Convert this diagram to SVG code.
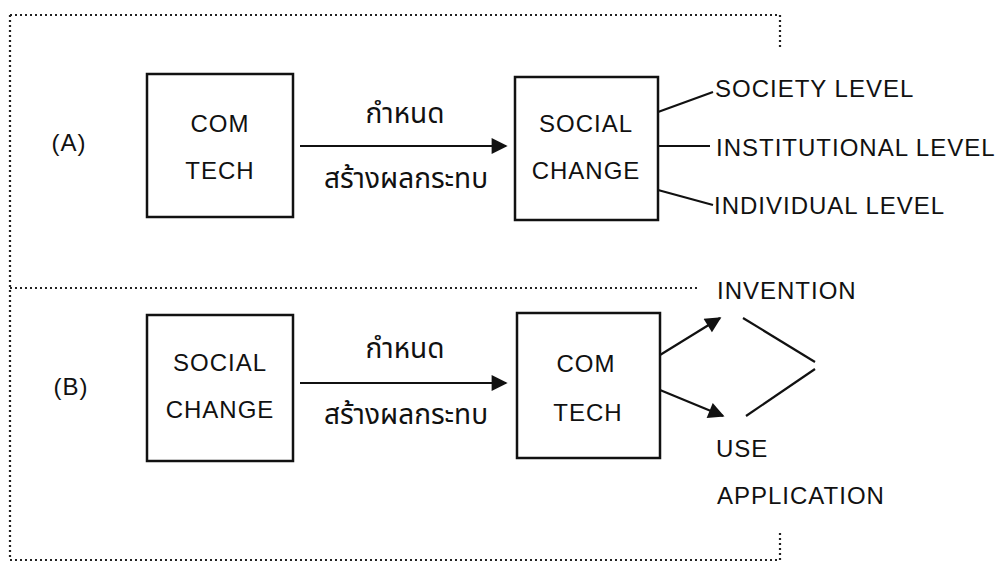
<svg xmlns="http://www.w3.org/2000/svg" width="1006" height="563" viewBox="0 0 1006 563">
  <defs>
    <marker id="headB" viewBox="0 0 10 10" refX="9" refY="5" markerWidth="20" markerHeight="16" markerUnits="userSpaceOnUse" orient="auto">
      <path d="M0,0 L10,5 L0,10 Z" fill="#111"/>
    </marker>
    <style>
      .frame { fill: none; stroke: #222; stroke-width: 2.2; stroke-dasharray: 2 3; }
      .box { fill: #fff; stroke: #111; stroke-width: 2.5; }
      .edge { fill: none; stroke: #111; stroke-width: 2.2; }
      .t { font-family: "Liberation Sans", "DejaVu Sans", sans-serif; font-size: 24px; letter-spacing: 1px; fill: #111; }
      .th { font-family: "Noto Sans Thai", "Noto Sans", "DejaVu Sans", sans-serif; font-size: 28px; fill: #111; }
      .mid { text-anchor: middle; }
    </style>
  </defs>
  <rect width="1006" height="563" fill="#fff"/>

  <!-- dotted frame -->
  <g id="frame">
    <path class="frame" d="M10,15 H780 V47"/>
    <path class="frame" d="M10,15 V560 H780 V530"/>
    <path class="frame" d="M10,288 H700"/>
  </g>

  <!-- panel labels -->
  <text class="t mid" x="69" y="151">(A)</text>
  <text class="t mid" x="71" y="395">(B)</text>

  <!-- panel A nodes -->
  <g id="a-comtech">
    <rect class="box" x="147" y="74" width="146" height="143"/>
    <text class="t mid" x="220" y="132">COM</text>
    <text class="t mid" x="220" y="179">TECH</text>
  </g>
  <g id="a-socialchange">
    <rect class="box" x="515" y="77" width="143" height="143"/>
    <text class="t mid" x="586" y="132">SOCIAL</text>
    <text class="t mid" x="586" y="179">CHANGE</text>
  </g>
  <g id="a-levels">
    <text class="t" x="715" y="97">SOCIETY LEVEL</text>
    <text class="t" x="716" y="156">INSTITUTIONAL LEVEL</text>
    <text class="t" x="714" y="214">INDIVIDUAL LEVEL</text>
  </g>

  <!-- panel B nodes -->
  <g id="b-socialchange">
    <rect class="box" x="147" y="315" width="146" height="146"/>
    <text class="t mid" x="220" y="371">SOCIAL</text>
    <text class="t mid" x="220" y="418">CHANGE</text>
  </g>
  <g id="b-comtech">
    <rect class="box" x="517" y="313" width="143" height="145"/>
    <text class="t mid" x="586" y="372">COM</text>
    <text class="t mid" x="588" y="421">TECH</text>
  </g>
  <g id="b-outcomes">
    <text class="t" x="717" y="299">INVENTION</text>
    <text class="t" x="716" y="457">USE</text>
    <text class="t" x="717" y="504">APPLICATION</text>
  </g>

  <!-- connectors -->
  <g id="connectors">
    <line class="edge" x1="300" y1="146" x2="506" y2="146" marker-end="url(#headB)"/>
    <text class="th mid" x="405" y="123">กำหนด</text>
    <text class="th mid" x="406" y="188">สร้างผลกระทบ</text>

    <line class="edge" x1="658" y1="112" x2="713" y2="92"/>
    <line class="edge" x1="658" y1="146" x2="710" y2="146"/>
    <line class="edge" x1="658" y1="190" x2="713" y2="205"/>

    <line class="edge" x1="300" y1="383" x2="506" y2="383" marker-end="url(#headB)"/>
    <text class="th mid" x="405" y="358">กำหนด</text>
    <text class="th mid" x="406" y="424">สร้างผลกระทบ</text>

    <line class="edge" x1="660" y1="355" x2="720" y2="318" marker-end="url(#headB)"/>
    <line class="edge" x1="660" y1="390" x2="723" y2="416" marker-end="url(#headB)"/>
    <line class="edge" x1="743" y1="318" x2="815" y2="362"/>
    <line class="edge" x1="815" y1="369" x2="746" y2="416"/>
  </g>
</svg>
